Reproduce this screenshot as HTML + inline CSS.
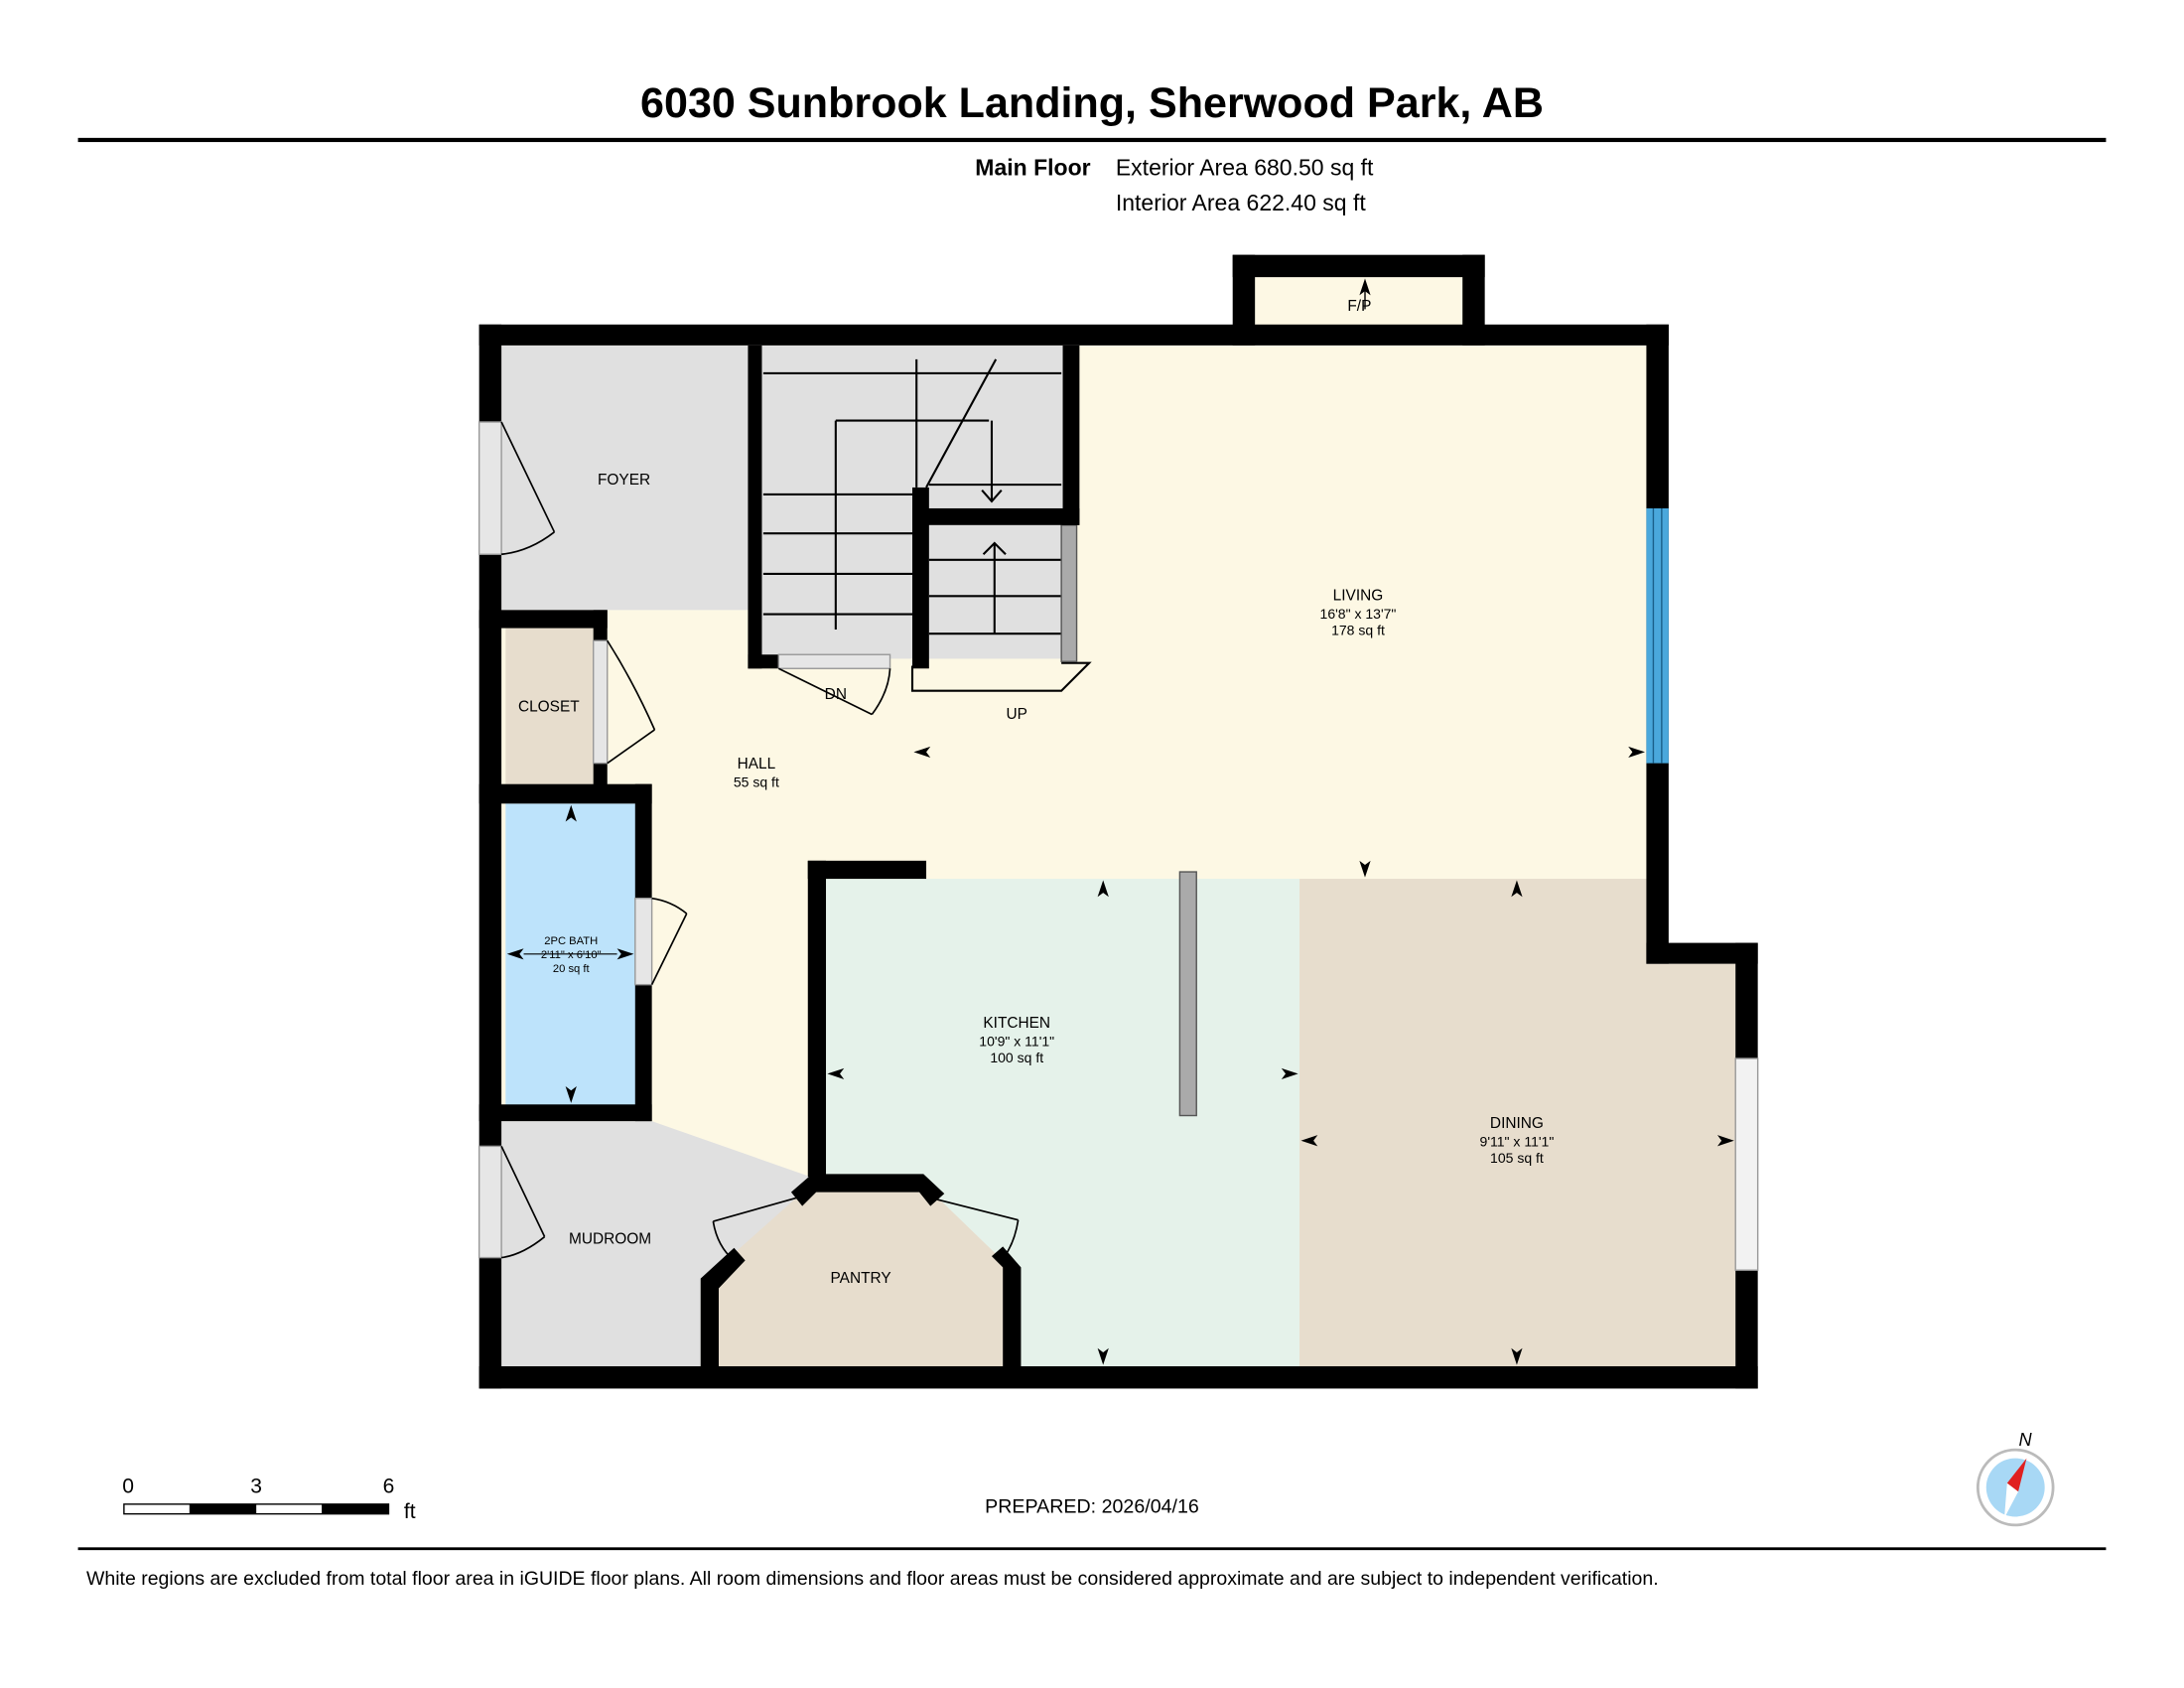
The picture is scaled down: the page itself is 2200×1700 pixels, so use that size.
<!DOCTYPE html>
<html><head><meta charset="utf-8"><style>
html,body{margin:0;padding:0;background:#fff;}
svg{display:block;}
text{font-family:"Liberation Sans",Arial,sans-serif;fill:#000;}
</style></head><body>
<svg width="2200" height="1700" viewBox="0 0 1568 1212" preserveAspectRatio="none" xmlns="http://www.w3.org/2000/svg">
<rect width="1600" height="1250" fill="#fff"/>
<text x="784" y="84" font-size="30.7" font-weight="bold" text-anchor="middle">6030 Sunbrook Landing, Sherwood Park, AB</text>
<rect x="56" y="99" width="1456" height="3" fill="#000"/>
<text x="783" y="126" font-size="16.4" font-weight="bold" text-anchor="end">Main Floor</text>
<text x="801" y="126" font-size="16.4">Exterior Area 680.50 sq ft</text>
<text x="801" y="151" font-size="16.4">Interior Area 622.40 sq ft</text>

<!-- room fills -->
<rect x="360" y="248" width="822" height="733" fill="#fdf8e4"/>
<rect x="360" y="248" width="180" height="190" fill="#e0e0e0"/>
<rect x="540" y="248" width="230" height="225" fill="#e0e0e0"/>
<rect x="901" y="199" width="150" height="40" fill="#fdf8e4"/>
<rect x="593" y="631" width="340" height="350" fill="#e5f2ea"/>
<rect x="933" y="631" width="250" height="350" fill="#e7ddcd"/>
<rect x="1182" y="692" width="64" height="289" fill="#e7ddcd"/>
<rect x="363" y="451" width="65" height="112" fill="#e7ddcd"/>
<rect x="363" y="577" width="95" height="218" fill="#bde3fb"/>
<polygon points="360,805 468,805 582,845 583,856 516,918 503,918 503,981 360,981" fill="#e0e0e0"/>
<polygon points="583,850 663,850 725,910 725,981 510,981 510,915" fill="#e7ddcd"/>

<!-- stairs -->
<g stroke="#000" stroke-width="1.5" fill="none">
<line x1="548" y1="268" x2="762" y2="268"/>
<line x1="658" y1="258" x2="658" y2="350"/>
<line x1="600" y1="302" x2="600" y2="452"/>
<line x1="600" y1="302" x2="710" y2="302"/>
<line x1="548" y1="355" x2="655" y2="355"/>
<line x1="548" y1="383" x2="655" y2="383"/>
<line x1="548" y1="412" x2="655" y2="412"/>
<line x1="548" y1="441" x2="655" y2="441"/>
<line x1="665" y1="350" x2="715" y2="258"/>
<line x1="712" y1="302" x2="712" y2="360"/>
<line x1="667" y1="348" x2="762" y2="348"/>
<line x1="667" y1="402" x2="762" y2="402"/>
<line x1="667" y1="428" x2="762" y2="428"/>
<line x1="667" y1="455" x2="762" y2="455"/>
<line x1="714" y1="390" x2="714" y2="455"/>
<polyline points="705,352 712,360 719,352"/>
<polyline points="706,398 714,390 722,398"/>
<polyline points="655,478 655,496 762,496 782,476 762,476"/>
</g>
<rect x="762" y="377" width="11" height="98" fill="#aaa" stroke="#555" stroke-width="1"/>

<!-- walls -->
<g fill="#000">
<rect x="344" y="233" width="854" height="15"/>
<rect x="885" y="183" width="181" height="16"/>
<rect x="885" y="183" width="16" height="65"/>
<rect x="1050" y="183" width="16" height="65"/>
<rect x="344" y="233" width="16" height="764"/>
<rect x="1182" y="233" width="16" height="459"/>
<rect x="1182" y="677" width="80" height="15"/>
<rect x="1246" y="677" width="16" height="320"/>
<rect x="344" y="981" width="918" height="16"/>
<rect x="537" y="248" width="10" height="232"/>
<rect x="537" y="470" width="22" height="10"/>
<rect x="763" y="248" width="12" height="129"/>
<rect x="655" y="365" width="120" height="12"/>
<rect x="655" y="350" width="12" height="130"/>
<rect x="344" y="438" width="92" height="13"/>
<rect x="426" y="438" width="10" height="22"/>
<rect x="426" y="548" width="10" height="20"/>
<rect x="344" y="563" width="124" height="14"/>
<rect x="456" y="563" width="12" height="82"/>
<rect x="456" y="707" width="12" height="98"/>
<rect x="344" y="793" width="124" height="12"/>
<rect x="580" y="618" width="13" height="227"/>
<rect x="580" y="618" width="85" height="13"/>
<polygon points="583,843 663,843 678,857 668,866 660,856 586,856 576,866 568,856"/>
<polygon points="503,918 527,896 535,905 516,925 516,981 503,981"/>
<polygon points="720,910 712,902 720,895 733,910 733,981 720,981"/>
</g>
<!-- windows/doors -->
<rect x="1182" y="365" width="16" height="183" fill="#4aa8dc"/>
<g stroke="#1a5f8a" stroke-width="1"><line x1="1187" y1="365" x2="1187" y2="548"/><line x1="1193" y1="365" x2="1193" y2="548"/></g>
<rect x="344" y="303" width="16" height="95" fill="#e6e6e6" stroke="#999"/>
<rect x="344" y="823" width="16" height="80" fill="#e6e6e6" stroke="#999"/>
<rect x="1246" y="760" width="16" height="152" fill="#f2f2f2" stroke="#999"/>
<rect x="426" y="460" width="10" height="88" fill="#e6e6e6" stroke="#999"/>
<rect x="456" y="645" width="12" height="62" fill="#e6e6e6" stroke="#999"/>
<rect x="559" y="470" width="80" height="10" fill="#e6e6e6" stroke="#999"/>
<g stroke="#000" stroke-width="1.2" fill="none">
<line x1="360" y1="303" x2="398" y2="382"/><path d="M398,382 Q380,396 360,398"/>
<line x1="360" y1="823" x2="391" y2="888"/><path d="M391,888 Q375,901 360,903"/>
<line x1="436" y1="548" x2="470" y2="524"/><path d="M470,524 Q455,490 436,460"/>
<line x1="468" y1="707" x2="493" y2="656"/><path d="M493,656 Q482,647 468,645"/>
<line x1="559" y1="480" x2="626" y2="513"/><path d="M626,513 Q638,497 639,480"/>
<line x1="572" y1="860" x2="512" y2="877"/><path d="M512,877 Q515,895 527,905"/>
<line x1="668" y1="860" x2="731" y2="876"/><path d="M731,876 Q728,895 718,906"/>
</g>
<rect x="847" y="626" width="12" height="175" fill="#aaa" stroke="#555"/>

<!-- arrows -->
<g fill="#000">
<path d="M980,200 l-4,12 4,-3 4,3z"/><line x1="980" y1="205" x2="980" y2="222" stroke="#000"/>
<path d="M656,540 l12,-4 -3,4 3,4z"/>
<path d="M1181,540 l-12,-4 3,4 -3,4z"/>
<path d="M980,630 l-4,-12 4,3 4,-3z"/>
<path d="M1089,632 l-4,12 4,-3 4,3z"/>
<path d="M792,632 l-4,12 4,-3 4,3z"/>
<path d="M792,980 l-4,-12 4,3 4,-3z"/>
<path d="M1089,980 l-4,-12 4,3 4,-3z"/>
<path d="M594,771 l12,-4 -3,4 3,4z"/>
<path d="M932,771 l-12,-4 3,4 -3,4z"/>
<path d="M934,819 l12,-4 -3,4 3,4z"/>
<path d="M1245,819 l-12,-4 3,4 -3,4z"/>
<path d="M410,578 l-4,12 4,-3 4,3z"/>
<path d="M410,792 l-4,-12 4,3 4,-3z"/>
<path d="M364,685 l12,-4 -3,4 3,4z"/>
<path d="M455,685 l-12,-4 3,4 -3,4z"/>
</g>
<line x1="376" y1="685" x2="443" y2="685" stroke="#000" stroke-width="0.8"/>

<!-- labels -->
<g font-size="11" text-anchor="middle">
<text x="976" y="223">F/P</text>
<text x="448" y="348">FOYER</text>
<text x="975" y="431">LIVING</text>
<text x="975" y="444" font-size="10">16'8" x 13'7"</text>
<text x="975" y="456" font-size="10">178 sq ft</text>
<text x="394" y="511">CLOSET</text>
<text x="600" y="502">DN</text>
<text x="730" y="516">UP</text>
<text x="543" y="552">HALL</text>
<text x="543" y="565" font-size="10">55 sq ft</text>
<text x="410" y="678" font-size="8">2PC BATH</text>
<text x="410" y="688" font-size="8">2'11" x 6'10"</text>
<text x="410" y="698" font-size="8">20 sq ft</text>
<text x="730" y="738">KITCHEN</text>
<text x="730" y="751" font-size="10">10'9" x 11'1"</text>
<text x="730" y="763" font-size="10">100 sq ft</text>
<text x="1089" y="810">DINING</text>
<text x="1089" y="823" font-size="10">9'11" x 11'1"</text>
<text x="1089" y="835" font-size="10">105 sq ft</text>
<text x="438" y="893">MUDROOM</text>
<text x="618" y="921">PANTRY</text>
</g>

<!-- scale -->
<g font-size="15">
<text x="92" y="1072" text-anchor="middle">0</text>
<text x="184" y="1072" text-anchor="middle">3</text>
<text x="279" y="1072" text-anchor="middle">6</text>
<text x="290" y="1090">ft</text>
</g>
<rect x="89" y="1080" width="190" height="7" fill="#fff" stroke="#000" stroke-width="1"/>
<rect x="136" y="1080" width="48" height="7" fill="#000"/>
<rect x="231" y="1080" width="48" height="7" fill="#000"/>
<text x="784" y="1086" font-size="14" text-anchor="middle">PREPARED: 2026/04/16</text>

<!-- compass -->
<circle cx="1447" cy="1068" r="27" fill="#fff" stroke="#bbb" stroke-width="2"/>
<circle cx="1447" cy="1068" r="21" fill="#a8d8f5"/>
<polygon points="1455,1047 1449,1071 1441,1065" fill="#e02020"/>
<polygon points="1441,1065 1449,1071 1439,1090" fill="#fff"/>
<text x="1454" y="1038" font-size="13" font-style="italic" text-anchor="middle">N</text>

<rect x="56" y="1111" width="1456" height="2" fill="#000"/>
<text x="62" y="1138" font-size="13.9">White regions are excluded from total floor area in iGUIDE floor plans. All room dimensions and floor areas must be considered approximate and are subject to independent verification.</text>
</svg>
</body></html>
